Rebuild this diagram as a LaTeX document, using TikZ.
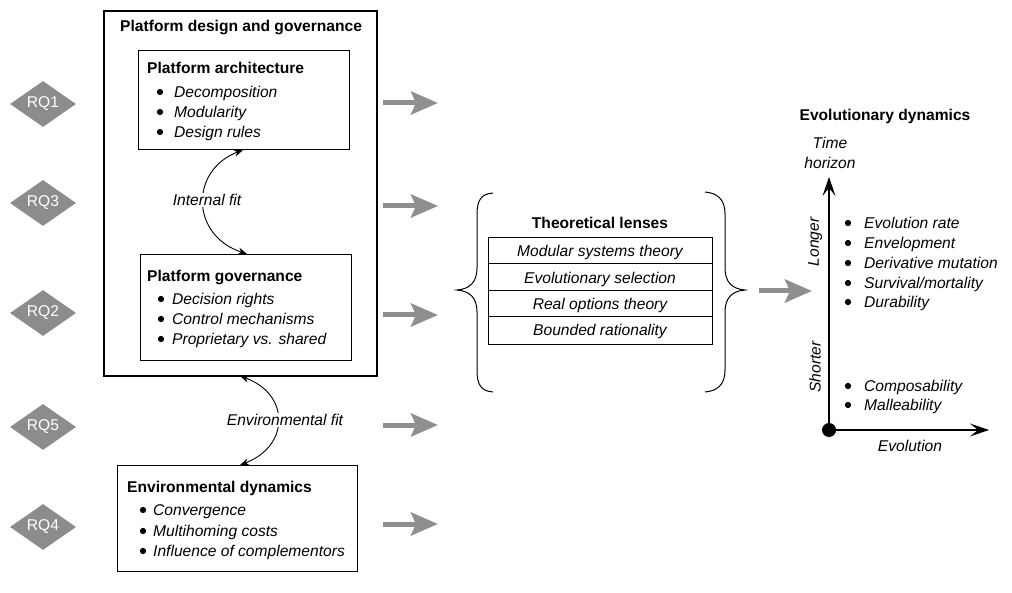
\documentclass[tikz,border=0pt]{standalone}
\usepackage{fontspec}
\setmainfont{Liberation Sans}
\usetikzlibrary{arrows.meta,shapes.geometric}
\definecolor{rqgray}{HTML}{8C8C8C}
\definecolor{agray}{HTML}{8F8F8F}
\newcommand\bitem[5]{%
  \node[blt] (#1b) at ({#2},{#4-5.5}) {};
  \node[itm] (#1) at (#3,#4) {#5};}
\begin{document}
\begin{tikzpicture}[x=1pt,y=-1pt,
  font=\fontsize{15.6}{19}\selectfont,
  box/.style={draw, line width=1.2pt, inner sep=0, anchor=north west},
  ttl/.style={font=\fontsize{15.6}{19}\selectfont\bfseries, inner sep=0, anchor=base west},
  itm/.style={font=\fontsize{15.6}{19}\selectfont\itshape, inner sep=0, anchor=base west},
  blt/.style={circle, fill=black, inner sep=0, minimum size=6.3pt},
  rq/.style={diamond, fill=rqgray, text=white, minimum width=66pt, minimum height=43pt, inner sep=0},
  garrow/.style={draw=agray, line width=5pt, -{Stealth[length=27pt,width=23pt,inset=5pt]}},
  fitarrow/.style={line width=0.9pt, {Stealth[length=9pt,width=7pt]}-{Stealth[length=9pt,width=7pt]}},
  axis/.style={line width=1.3pt, -{Stealth[length=19pt,width=13pt,inset=8pt]}},
  lbl/.style={font=\fontsize{15.6}{19}\selectfont\itshape, fill=white, inner sep=1pt},
]
\useasboundingbox (0,0) rectangle (1012,593);

% boxes
\node[box, line width=1.8pt, minimum width=273pt, minimum height=365pt] (outer) at (103,10) {};
\node[box, minimum width=211pt, minimum height=99pt] (arch) at (138,50) {};
\node[box, minimum width=211pt, minimum height=106pt] (gov) at (140,254) {};
\node[box, minimum width=240pt, minimum height=106pt] (env) at (117,465) {};

\node[ttl] (outert) at (120,31.5) {Platform design and governance};
\node[ttl] (archt) at (147,73.5) {Platform architecture};
\bitem{a1}{160}{174}{97.5}{Decomposition}
\bitem{a2}{160}{174}{117.5}{Modularity}
\bitem{a3}{160}{174}{137.5}{Design rules}

\node[ttl] (govt) at (147,281.5) {Platform governance};
\bitem{g1}{161}{172}{304.5}{Decision rights}
\bitem{g2}{161}{172}{324.5}{Control mechanisms}
\bitem{g3}{161}{172}{344.5}{Proprietary vs. shared}

\node[ttl] (envt) at (127,492.5) {Environmental dynamics};
\bitem{e1}{143}{153}{515.5}{Convergence}
\bitem{e2}{143}{153}{536.5}{Multihoming costs}
\bitem{e3}{143}{153}{556.5}{Influence of complementors}

% fit connectors
\coordinate (if1) at (243,150);
\coordinate (if2) at (247,254);
\draw[fitarrow] (if1) .. controls (190,170) and (190,235) .. (if2);
\node[lbl] (ifl) at (207,200) {Internal fit};
\coordinate (ef1) at (240,376);
\coordinate (ef2) at (240,465);
\draw[fitarrow] (ef1) .. controls (290,394) and (290,446) .. (ef2);
\node[lbl] (efl) at (285,420) {Environmental fit};

% RQ diamonds
\node[rq] (rq1) at (43,104) {RQ1};
\node[rq] (rq3) at (43,203) {RQ3};
\node[rq] (rq2) at (43,313) {RQ2};
\node[rq] (rq5) at (43,427) {RQ5};
\node[rq] (rq4) at (43,527) {RQ4};

% gray arrows
\foreach \n/\y in {1/103,2/206,3/315,4/425,5/524}{
  \coordinate (gs\n) at (383,\y);
  \coordinate (ge\n) at (438,\y);
  \draw[garrow] (gs\n) -- (ge\n);
}
\coordinate (ms) at (759,291);
\coordinate (me) at (812,291);
\draw[garrow] (ms) -- (me);

% braces
\draw[line width=1pt] (493,193) .. controls (481,194) and (477,200) .. (477,215) -- (477,268)
  .. controls (477,282) and (470,289) .. (457,290) .. controls (470,291) and (477,298) .. (477,312)
  -- (477,370) .. controls (477,385) and (481,391) .. (493,392);
\draw[line width=1pt] (705,192) .. controls (717,193) and (725,199) .. (725,214) -- (725,268)
  .. controls (725,282) and (732,289) .. (745,290) .. controls (732,291) and (725,298) .. (725,312)
  -- (725,370) .. controls (725,385) and (717,391) .. (705,392);

% theoretical lenses
\node[ttl, anchor=base] (lenst) at (600,228.5) {Theoretical lenses};
\node[box, minimum width=224pt, minimum height=107pt] (lens) at (488,237) {};
\draw[line width=0.7pt] (lens.west |- 0,263) -- (lens.east |- 0,263);
\draw[line width=0.7pt] (lens.west |- 0,290) -- (lens.east |- 0,290);
\draw[line width=0.7pt] (lens.west |- 0,316) -- (lens.east |- 0,316);
\node[itm, anchor=base] (l1) at (600,256.5) {Modular systems theory};
\node[itm, anchor=base] (l2) at (600,283.5) {Evolutionary selection};
\node[itm, anchor=base] (l3) at (600,309.5) {Real options theory};
\node[itm, anchor=base] (l4) at (600,335.5) {Bounded rationality};

% evolutionary dynamics
\node[ttl, anchor=base] (evt) at (885,120.5) {Evolutionary dynamics};
\node[itm, anchor=center, align=center, font=\fontsize{15.6}{20}\selectfont\itshape] (th) at (830,153) {Time\\horizon};
\node[circle, fill=black, minimum size=14pt, inner sep=0] (o) at (829,430) {};
\coordinate (yt) at (829,177);
\coordinate (xt) at (989,430);
\draw[axis] (o.center) -- (yt);
\draw[axis] (o.center) -- (xt);
\node[itm, anchor=center, rotate=90] (lg) at (815,242) {Longer};
\node[itm, anchor=center, rotate=90] (sh) at (815,367) {Shorter};
\node[itm, anchor=center] (evx) at (910,446) {Evolution};
\bitem{v1}{848}{864}{228.5}{Evolution rate}
\bitem{v2}{848}{864}{248.5}{Envelopment}
\bitem{v3}{848}{864}{268.5}{Derivative mutation}
\bitem{v4}{848}{864}{288.5}{Survival/mortality}
\bitem{v5}{848}{864}{307.5}{Durability}
\bitem{v6}{848}{864}{391.5}{Composability}
\bitem{v7}{848}{864}{410.5}{Malleability}
\end{tikzpicture}
\end{document}
